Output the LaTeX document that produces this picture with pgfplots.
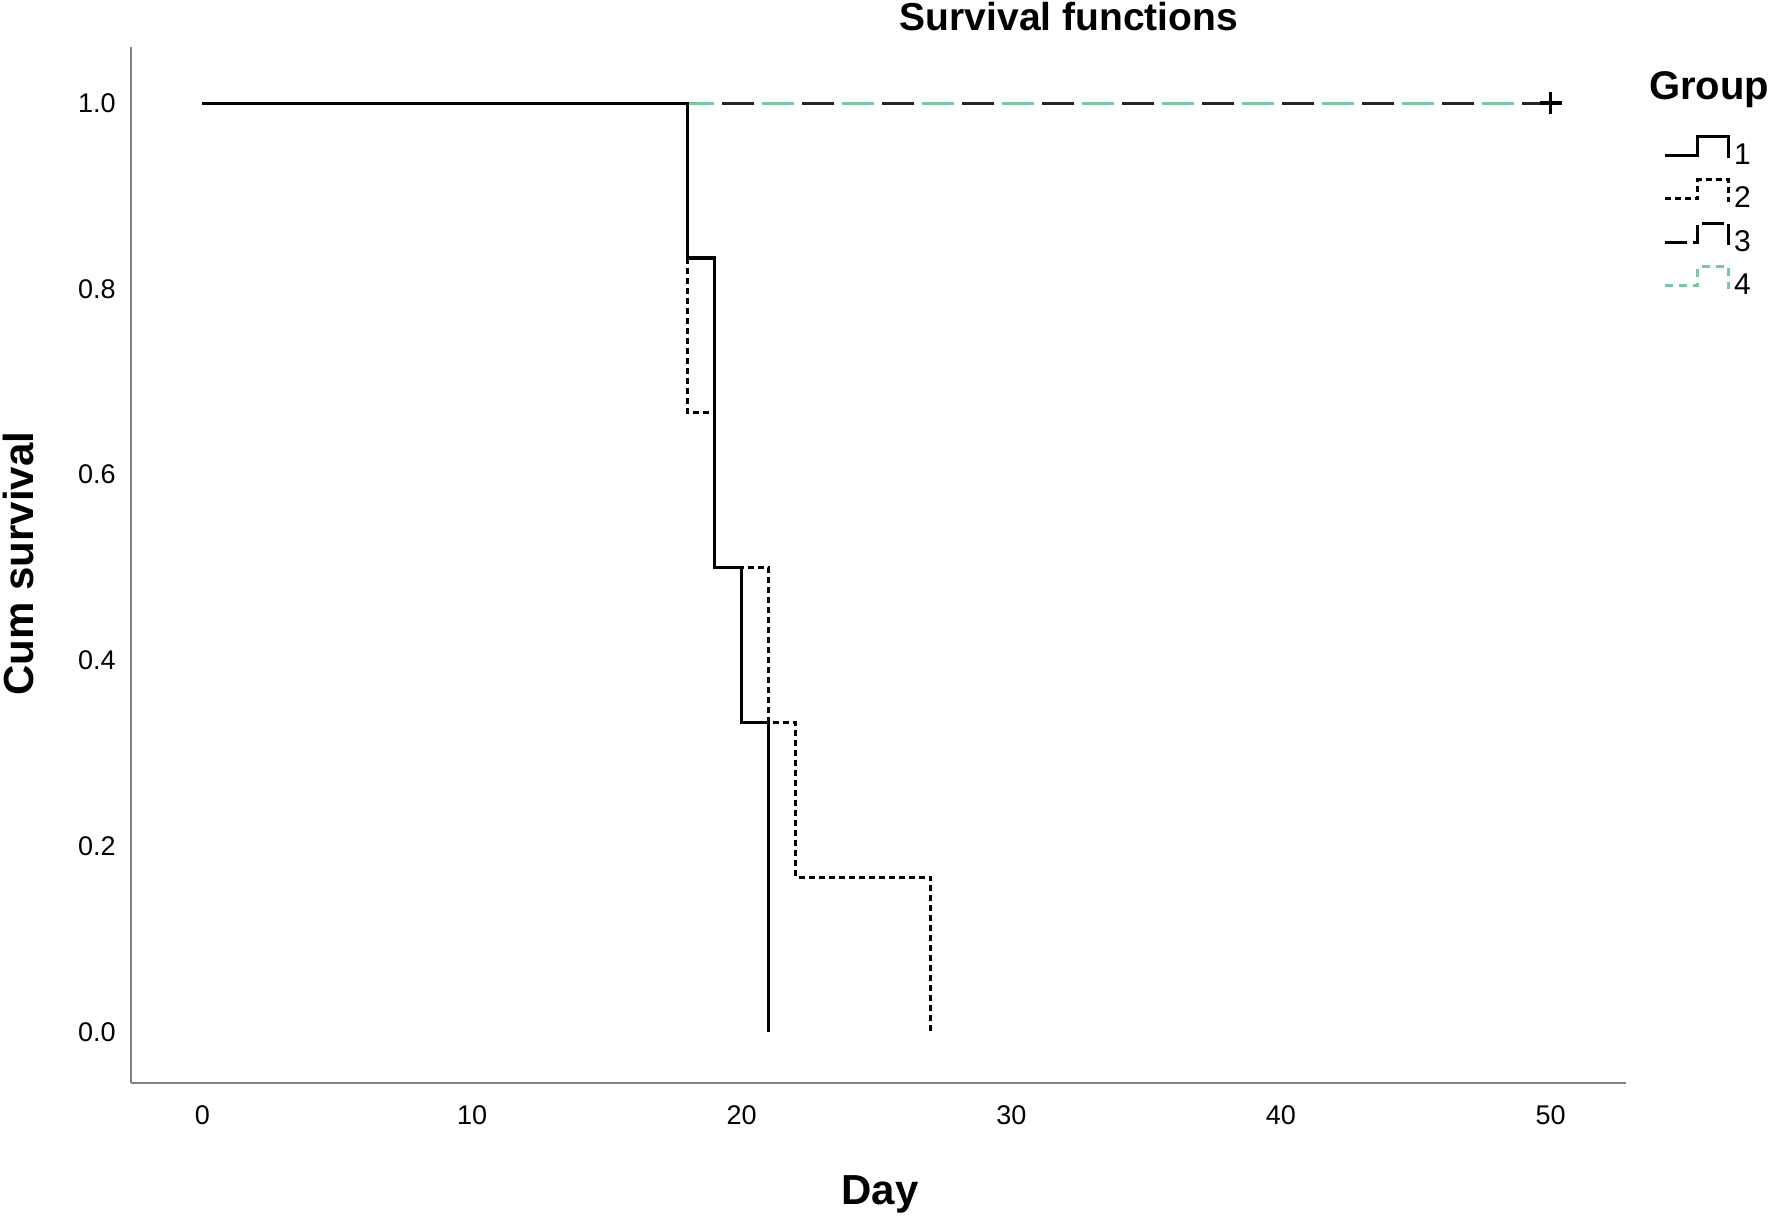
\documentclass[border=0pt]{standalone}
\usepackage{pgfplots}
\pgfplotsset{compat=1.18}
\usepackage{fontspec}
\setmainfont{Liberation Sans}
\definecolor{grpgreen}{RGB}{120,200,160}
\definecolor{axisgray}{RGB}{130,130,130}
\pgfplotsset{
  stepglyph/.style={legend image code/.code={%
    \draw[##1] (0pt,0pt) -- (16.5pt,0pt) -- (16.5pt,9.5pt) -- (32pt,9.5pt) -- (32pt,-1.5pt);}}
}
\begin{document}
\begin{tikzpicture}
\useasboundingbox (0,0) rectangle (886.5pt,608pt);
\begin{axis}[
  at={(65.5pt,66.5pt)}, anchor=south west,
  scale only axis, width=747.5pt, height=517.75pt,
  xmin=-2.65, xmax=52.8, ymin=-0.055, ymax=1.06,
  axis lines=left,
  axis line style={-, axisgray, line width=1pt},
  major tick length=0pt,
  tick style={draw=none},
  xtick={0,10,20,30,40,50},
  ytick={0,0.2,0.4,0.6,0.8,1.0},
  yticklabel style={/pgf/number format/fixed, /pgf/number format/precision=1, /pgf/number format/fixed zerofill, inner sep=0pt, xshift=-7.5pt},
  xticklabel style={inner sep=0pt, yshift=-11pt},
  /pgf/number format/assume math mode=true,
  tick label style={font=\fontsize{13.5}{15}\selectfont},
  clip=false,
  legend style={at={(axis description cs:1.0247,0.916)}, anchor=north west,
    draw=none, fill=none, inner sep=0pt, row sep=3.6pt,
    font=\fontsize{15}{17}\selectfont},
  legend cell align=left,
]
% Group 4 (green dashes)
\addplot[grpgreen, line width=1.6pt, dash pattern=on 16pt off 4pt, forget plot] coordinates {
  (0,1) (50,1)};
% Group 3 (black long dashes)
\addplot[black!85, line width=1.6pt, dash pattern=on 16pt off 24pt, dash phase=20pt, forget plot] coordinates {
  (0,1) (50,1)};
% Group 2 (short dashes)
\addplot[black, line width=1.6pt, dash pattern=on 3pt off 2pt, const plot, forget plot] coordinates {
  (0,1) (18,0.6667) (19,0.5) (21,0.3333) (22,0.1667) (27,0)};
% Group 1 (solid)
\addplot[black, line width=1.6pt, const plot, forget plot] coordinates {
  (0,1) (18,0.8333) (19,0.5) (20,0.3333) (21,0)};
% censored marks
\addplot[only marks, mark=+, black, mark options={solid, line width=1.9pt}, mark size=5.5pt, forget plot] coordinates {(50,1)};
\addlegendimage{black, line width=1.4pt, stepglyph}
\addlegendimage{black, line width=1.4pt, dash pattern=on 3pt off 2pt, stepglyph}
\addlegendimage{black, line width=1.4pt, dash pattern=on 11pt off 3pt, stepglyph}
\addlegendimage{grpgreen, line width=1.4pt, dash pattern=on 4pt off 3pt, stepglyph}
\legend{1,2,3,4}
\end{axis}
\node[anchor=base, font=\bfseries\fontsize{19.5}{22}\selectfont] at (534.5pt,592.5pt) {Survival functions};
\node[anchor=base, font=\bfseries\fontsize{21}{23}\selectfont] at (440pt,5.5pt) {Day};
\node[anchor=base, rotate=90, font=\bfseries\fontsize{21}{23}\selectfont] at (16.5pt,326.25pt) {Cum survival};
\node[anchor=base, font=\bfseries\fontsize{20}{22}\selectfont] at (854.5pt,558.25pt) {Group};
\end{tikzpicture}
\end{document}
